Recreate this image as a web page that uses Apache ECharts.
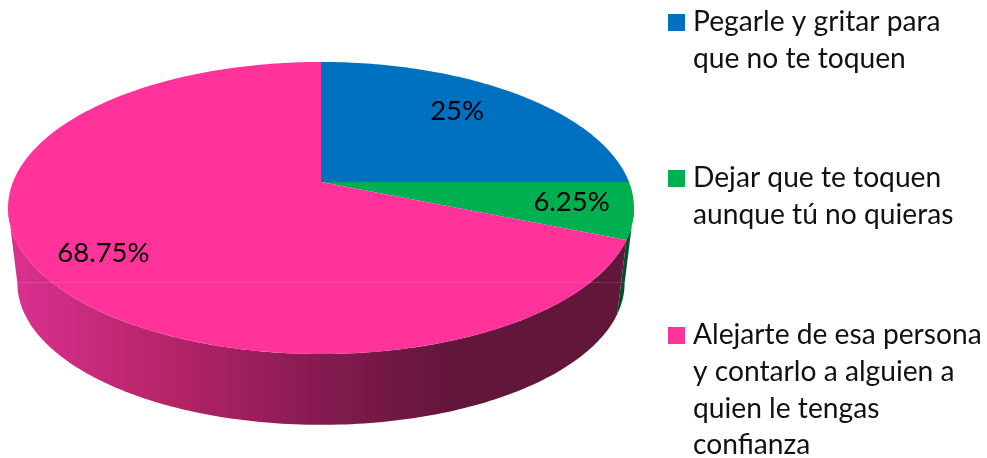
<!DOCTYPE html>
<html>
<head>
<meta charset="utf-8">
<style>html,body{margin:0;padding:0;background:#fff}#c{width:987px;height:458px}</style>
<script src="https://cdn.jsdelivr.net/npm/echarts@6/dist/echarts.min.js"></script>
</head>
<body>
<div id="c"></div>
<script>
var categories = [
  'Pegarle y gritar para\nque no te toquen',
  'Dejar que te toquen\naunque tú no quieras',
  'Alejarte de esa persona\ny contarlo a alguien a\nquien le tengas\nconfianza'
];
var values = [25, 6.25, 68.75];

var colors = ['#0070c0', '#00b050', '#ff3399'];
var wallFills = ['#003b6e', '#004f2a', null];
var labelRadius = [0.7, 0.8, 0.7];
var labelNudge = [[-4, -7], [2, -3], [-25, 12]];
var legendTops = [3.5, 159.5, 316.5];

// perspective projection of the pie disc
var CX = 321, CY = 182, BX = 308, AY = 141.4, K = 0.178;
var WALL_DROP = 76, WALL_SCALE = 0.97;
var WALL_FROM = 100.25, WALL_TO = 259.75;
var FONT = 'Lato, Carlito, Calibri, sans-serif';
var LINE = 36.8;

function project(deg, r, s, d) {
  var t = deg * Math.PI / 180, u = r * Math.sin(t), v = -r * Math.cos(t), den = 1 - K * v;
  return [CX + s * BX * u / den, CY + d + s * AY * v / den];
}
function arc(a0, a1, s, d) {
  var pts = [], n = Math.max(2, Math.ceil(Math.abs(a1 - a0)));
  for (var i = 0; i <= n; i++) pts.push(project(a0 + (a1 - a0) * i / n, 1, s, d));
  return pts;
}
var total = values.reduce(function (a, b) { return a + b; }, 0);
var pinkWall = {
  type: 'linear', global: true, x: 17, y: 0, x2: 625, y2: 0,
  colorStops: [
    { offset: 0, color: '#d8308f' },
    { offset: 0.25, color: '#b62468' },
    { offset: 0.5, color: '#851a50' },
    { offset: 0.72, color: '#62163a' },
    { offset: 1, color: '#62163a' }
  ]
};

function sliceSeries(i) {
  var startVal = values.slice(0, i).reduce(function (a, b) { return a + b; }, 0);
  return {
    type: 'custom',
    name: categories[i],
    coordinateSystem: 'none',
    color: colors[i],
    itemStyle: { color: colors[i] },
    silent: true,
    data: [[values[i], startVal]],
    renderItem: function (params, api) {
      var v = api.value(0), s0 = api.value(1);
      var a0 = s0 / total * 360, a1 = (s0 + v) / total * 360;
      var children = [];
      var w0 = Math.max(a0, WALL_FROM), w1 = Math.min(a1, WALL_TO);
      if (w1 > w0) {
        var wallPts = arc(w0, w1, 1, 0).concat(arc(w1, w0, WALL_SCALE, WALL_DROP));
        children.push({
          type: 'polygon', shape: { points: wallPts },
          style: { fill: wallFills[i] || pinkWall }
        });
      }
      children.push({
        type: 'polygon',
        shape: { points: [[CX, CY]].concat(arc(a0, a1, 1, 0)) },
        style: { fill: colors[i] }
      });
      return { type: 'group', children: children };
    }
  };
}

function labelSeries() {
  return {
    type: 'custom',
    coordinateSystem: 'none',
    silent: true,
    z: 5,
    data: values.map(function (v, i) {
      return [v, values.slice(0, i).reduce(function (a, b) { return a + b; }, 0), i];
    }),
    renderItem: function (params, api) {
      var v = api.value(0), s0 = api.value(1), i = api.value(2);
      var mid = (s0 + v / 2) / total * 360;
      var p = project(mid, labelRadius[i], 1, 0);
      return {
        type: 'text',
        style: {
          x: p[0] + labelNudge[i][0], y: p[1] + labelNudge[i][1],
          text: v + '%', fill: '#000', font: '27.5px ' + FONT,
          align: 'center', verticalAlign: 'middle'
        }
      };
    }
  };
}

function legendFor(i) {
  var lines = categories[i].split('\n').length;
  var h = lines * LINE;
  return {
    data: [categories[i]],
    left: 668, top: legendTops[i],
    padding: 0, orient: 'vertical',
    selectedMode: false,
    itemWidth: 20, itemHeight: h,
    icon: 'path://M0 10.5H17V27.5H0Z M0 0L0 0 M20 ' + h + 'L20 ' + h,
    textStyle: { fontFamily: FONT, fontSize: 28.2, lineHeight: LINE, color: '#111' }
  };
}

var chart = echarts.init(document.getElementById('c'), null, { renderer: 'canvas' });
chart.setOption({
  animation: false,
  backgroundColor: '#fff',
  legend: categories.map(function (c, i) { return legendFor(i); }),
  series: values.map(function (v, i) { return sliceSeries(i); }).concat([labelSeries()]),
  graphic: [{
    type: 'line', silent: true, z: 10,
    shape: { x1: 15, y1: 282.5, x2: 628, y2: 282.5 },
    style: { stroke: 'rgba(255,255,255,0.12)', lineWidth: 1 }
  }]
});
</script>
</body>
</html>
